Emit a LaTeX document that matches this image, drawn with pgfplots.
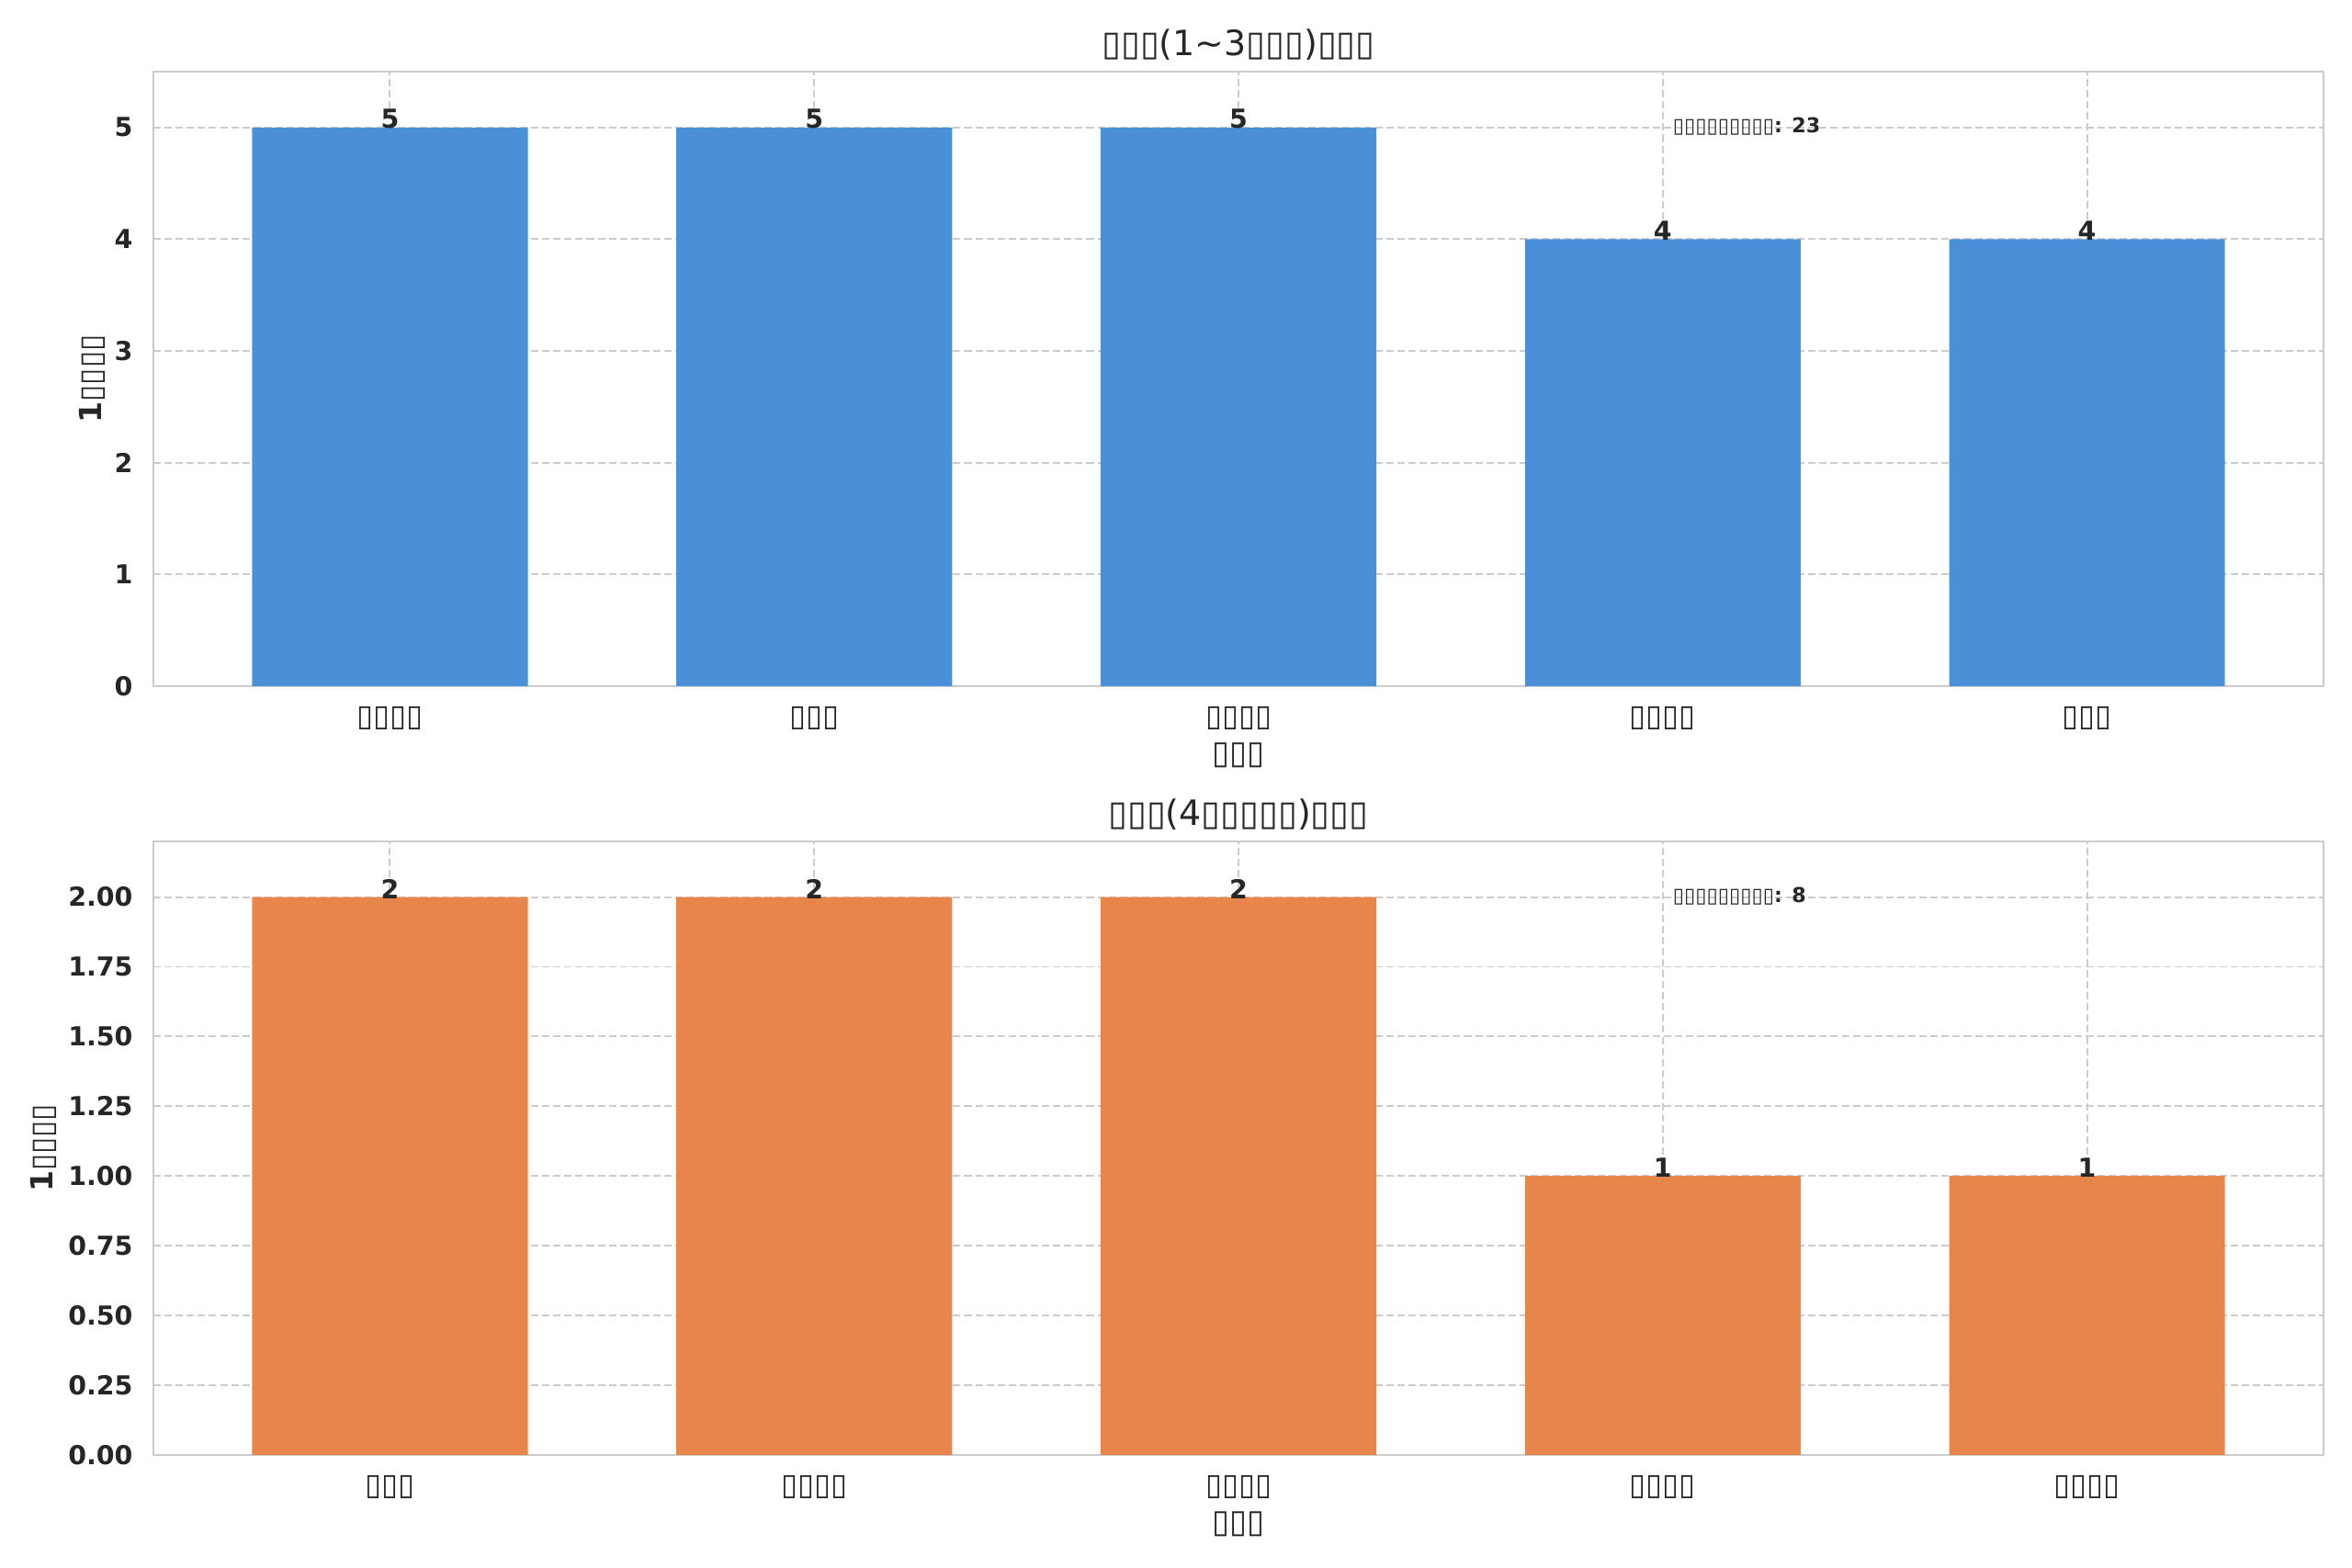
\documentclass[border=0pt]{standalone}
\usepackage{fontspec}
\setmainfont{DejaVu Sans}
\usepackage{graphicx}
\usepackage{pgfplots}
\pgfplotsset{compat=1.18}
\definecolor{barblue}{HTML}{4A90D9}
\definecolor{barorange}{HTML}{E8854A}
\definecolor{txt}{HTML}{262626}
\definecolor{gridc}{HTML}{CCCCCC}
\newcommand\tofu[3]{\scalebox{#1}[#2]{#3}}
\pgfplotsset{mystyle/.style={
  width=996.5pt, height=282.2pt, scale only axis,
  xmin=-0.5575, xmax=4.5575,
  xtick={0,1,2,3,4},
  major tick length=0pt,
  axis line style={draw=gridc, line width=1pt},
  grid=major,
  major grid style={draw=gridc, line width=0.8pt, dash pattern=on 3.4pt off 1.7pt},
  ybar, bar width=0.65,
  /pgf/number format/assume math mode=true,
  yticklabel style={font=\fontsize{12}{14}\selectfont\bfseries, text=txt, anchor=east, inner sep=0pt, xshift=-9.3pt},
  xticklabel style={font=\fontsize{12}{14}\selectfont, text=txt, anchor=north, inner sep=0pt, yshift=-9.3pt},
  title style={at={(axis description cs:0.5,1)}, anchor=base, yshift=1.2pt, inner sep=0pt, font=\fontsize{16}{19}\selectfont, text=txt},
  xlabel style={at={(axis description cs:0.5,0)}, anchor=center, yshift=-32pt, inner sep=0pt, font=\fontsize{13}{15}\selectfont, text=txt},
  ylabel style={font=\fontsize{14}{16}\selectfont\bfseries, text=txt, anchor=center, inner sep=0pt},
  nodes near coords,
  nodes near coords style={anchor=south, inner sep=0pt, yshift=-0.8pt, font=\fontsize{12}{14}\selectfont\bfseries, text=txt},
}}
\begin{document}
\begin{tikzpicture}
\useasboundingbox (0,0) rectangle (1080pt,720.1pt);
\begin{axis}[mystyle,
  at={(70.45pt,405.0pt)}, anchor=south west,
  ymin=0, ymax=5.5, ytick={0,1,2,3,4,5},
  xticklabels={{\tofu{1.15}{1.15}{▯▯▯▯}},{\tofu{1.15}{1.15}{▯▯▯}},{\tofu{1.15}{1.15}{▯▯▯▯}},{\tofu{1.15}{1.15}{▯▯▯▯}},{\tofu{1.15}{1.15}{▯▯▯}}},
  title={▯▯▯(1\textasciitilde3▯▯▯)▯▯▯},
  xlabel={\tofu{1.12}{1.15}{▯▯▯}},
  ylabel={1▯▯▯▯},
  ylabel style={at={(axis description cs:-0.0281,0.5)}},
]
\addplot[fill=barblue, draw=none] coordinates {(0,5) (1,5) (2,5) (3,4) (4,4)};
\node[anchor=base west, inner sep=0pt, font=\fontsize{9.4}{11}\selectfont\bfseries, text=txt] at (axis description cs:0.7,0.9) {▯▯▯▯▯▯▯▯▯: 23};
\end{axis}
\begin{axis}[mystyle,
  at={(70.45pt,51.9pt)}, anchor=south west, height=281.8pt,
  ymin=0, ymax=2.2, ytick={0,0.25,...,2.0},
  yticklabel style={/pgf/number format/.cd, fixed, fixed zerofill, precision=2},
  xticklabels={{\tofu{1.15}{1.15}{▯▯▯}},{\tofu{1.15}{1.15}{▯▯▯▯}},{\tofu{1.15}{1.15}{▯▯▯▯}},{\tofu{1.15}{1.15}{▯▯▯▯}},{\tofu{1.15}{1.15}{▯▯▯▯}}},
  title={▯▯▯(4▯▯▯▯▯)▯▯▯},
  xlabel={\tofu{1.12}{1.15}{▯▯▯}},
  ylabel={1▯▯▯▯},
  ylabel style={at={(axis description cs:-0.0505,0.5)}},
]
\addplot[fill=barorange, draw=none] coordinates {(0,2) (1,2) (2,2) (3,1) (4,1)};
\node[anchor=base west, inner sep=0pt, font=\fontsize{9.4}{11}\selectfont\bfseries, text=txt] at (axis description cs:0.7,0.9) {▯▯▯▯▯▯▯▯▯: 8};
\end{axis}
\end{tikzpicture}
\end{document}
